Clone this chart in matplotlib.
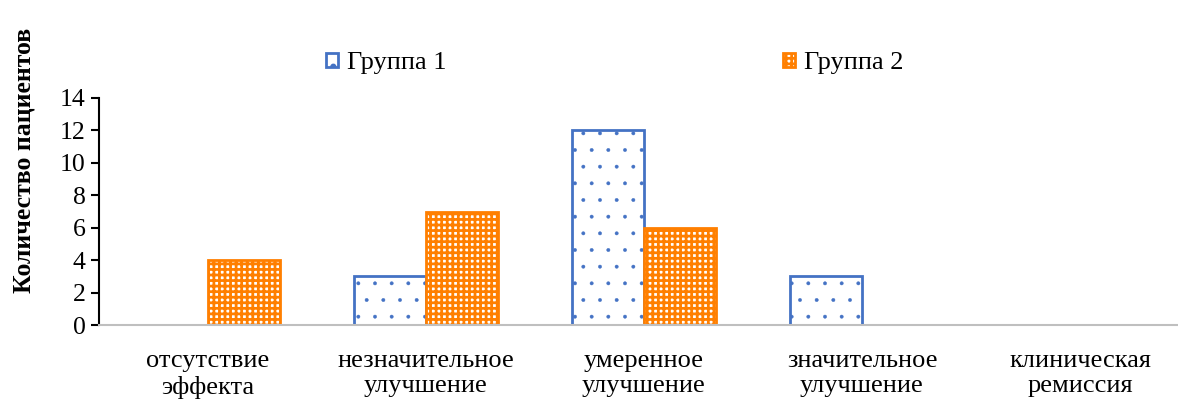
import numpy as np
import matplotlib.pyplot as plt

plt.rcParams['font.family'] = ['Liberation Serif', 'DejaVu Serif']

categories = ['отсутствие\nэффекта', 'незначительное\nулучшение', 'умеренное\nулучшение',
              'значительное\nулучшение', 'клиническая\nремиссия']
group1 = [0, 3, 12, 3, 0]
group2 = [4, 7, 6, 0, 0]

blue = '#4472C4'
orange = '#FF7F00'

fig = plt.figure(figsize=(11.78, 4.01), dpi=100)
# the last category runs a bit past the right edge of the figure
ax = fig.add_axes([99 / 1178, 76 / 401, 1090 / 1178, 227 / 401])

x = np.arange(len(categories))
w = 0.33
plt.rcParams['hatch.linewidth'] = 0.3
b1 = ax.bar(x - w / 2, group1, w, facecolor='white', edgecolor=blue, hatch='.',
            linewidth=2, label='Группа 1')
plt.rcParams['hatch.linewidth'] = 2.0
b2 = ax.bar(x + w / 2, group2, w, facecolor='white', edgecolor=orange, hatch='+++',
            linewidth=2, label='Группа 2')

ax.set_xlim(-0.5, 4.5)
ax.set_ylim(0, 14)
ax.set_yticks(range(0, 15, 2))
ax.set_xticks(x)
ax.set_xticklabels(categories, fontsize=19, linespacing=1.2)
ax.tick_params(axis='x', length=0, pad=18)
ax.tick_params(axis='y', labelsize=18.5, length=6, width=1.5, direction='out')

for s in ['top', 'right']:
    ax.spines[s].set_visible(False)
ax.spines['left'].set_linewidth(1.5)
ax.spines['bottom'].set_color('#BFBFBF')
ax.spines['bottom'].set_linewidth(1.5)

ax.set_ylabel('Количество пациентов', fontsize=18.5, fontweight='bold')
ax.yaxis.set_label_coords(-0.058, 0.727)

ax.legend(loc='lower center', bbox_to_anchor=(0.4735, 1.0), ncol=2, frameon=False,
          fontsize=19, handlelength=0.45, handleheight=0.45, handletextpad=0.35,
          columnspacing=12.75)

fig.savefig('out.png', dpi=100)
